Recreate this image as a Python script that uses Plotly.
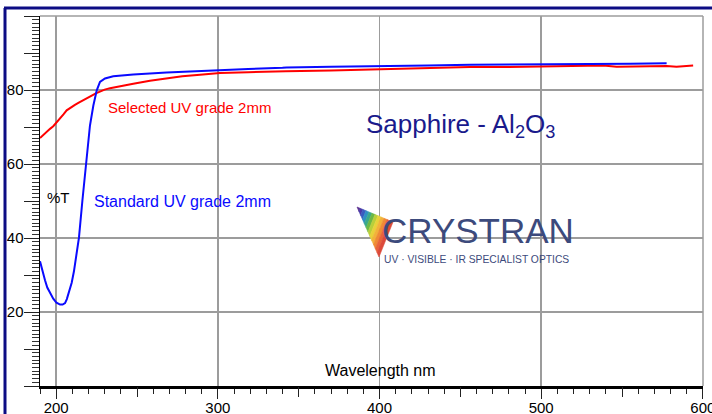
import plotly.graph_objects as go

# ---------------- data ----------------
std_nm = [190.0, 191.5, 193.1, 194.5, 196.5, 198.2, 200.2, 202.4, 204.0, 205.5, 206.6, 207.5,
          208.6, 209.6, 211.0, 212.3, 214.1, 216.2, 218.3, 219.9, 220.9, 223.0, 225.1, 227.1,
          230.2, 235.3, 247.7, 268.3, 289.0, 301.0, 318.8, 340.0, 342.5, 370.0, 400.0, 430.0,
          456.0, 480.0, 501.0, 530.0, 555.0, 577.6]
std_T = [33.7, 31.0, 28.6, 26.6, 24.8, 23.6, 22.5, 22.0, 22.0, 22.4, 23.5, 24.7,
         26.2, 27.9, 31.0, 34.5, 40.1, 50.0, 60.0, 66.8, 70.4, 75.8, 79.9, 82.2,
         83.1, 83.7, 84.2, 84.7, 85.1, 85.5, 85.7, 86.0, 86.1, 86.3, 86.4, 86.6,
         86.8, 86.8, 86.9, 87.0, 87.1, 87.2]

sel_nm = [190.0, 193.0, 196.2, 198.2, 200.5, 202.4, 204.5, 206.5, 209.0, 211.6, 214.0, 216.8,
          219.5, 222.0, 224.5, 227.1, 230.0, 233.3, 240.0, 247.7, 258.0, 268.3, 278.0, 289.0,
          301.3, 318.8, 338.4, 342.0, 370.0, 400.0, 430.0, 450.0, 456.0, 480.0, 501.0, 520.0,
          538.4, 546.7, 559.0, 577.6, 583.7, 594.0]
sel_T = [67.0, 68.3, 69.5, 70.2, 71.3, 72.2, 73.4, 74.5, 75.3, 76.0, 76.6, 77.2,
         77.9, 78.5, 79.1, 79.6, 80.1, 80.5, 81.1, 81.7, 82.5, 83.2, 83.7, 84.1,
         84.6, 84.8, 84.9, 85.1, 85.3, 85.6, 85.9, 86.1, 86.2, 86.2, 86.3, 86.4,
         86.6, 86.3, 86.4, 86.5, 86.3, 86.6]

x_major = [200, 300, 400, 500, 600]          # labelled ticks + grid
x_mid = [250, 350, 450, 550]                 # unlabelled longer ticks
y_major = [20, 40, 60, 80]                   # labelled ticks + grid
y_mid = [0, 10, 30, 50, 70, 90, 100]         # unlabelled longer ticks

# ---------------- layout helpers ----------------
W, H = 712, 414
L, R, T, B = 40, 9, 16, 28
PW, PH = W - L - R, H - T - B


def px(xp):
    return (xp - L) / PW


def py(yp):
    return (H - B - yp) / PH


FONT = "Arial, Liberation Sans, sans-serif"
GRID = "#9c9c9c"

fig = go.Figure()
fig.add_trace(go.Scatter(x=sel_nm, y=sel_T, mode="lines", name="Selected UV grade 2mm",
                         line=dict(color="#ff0000", width=2), showlegend=False, hoverinfo="skip"))
fig.add_trace(go.Scatter(x=std_nm, y=std_T, mode="lines", name="Standard UV grade 2mm",
                         line=dict(color="#0a0aff", width=2), showlegend=False, hoverinfo="skip"))
# helper (empty) trace so the overlay tick axes are drawn
fig.add_trace(go.Scatter(x=[None], y=[None], xaxis="x2", yaxis="y2", mode="lines",
                         showlegend=False, hoverinfo="skip"))

xr = [190, 600.1]
yr = [0, 100]

fig.update_layout(
    width=W, height=H,
    margin=dict(l=L, r=R, t=T, b=B, pad=0),
    paper_bgcolor="white", plot_bgcolor="white",
    font=dict(family=FONT, size=15, color="black"),
    xaxis=dict(range=xr, tickmode="array", tickvals=x_major,
               ticks="outside", ticklen=10, tickwidth=1, tickcolor="#222", ticklabelstandoff=-4,
               ticklabeloverflow="allow",
               minor=dict(dtick=10, tick0=200, ticks="outside", ticklen=5, tickcolor="#222", showgrid=False),
               showgrid=True, gridcolor=GRID, gridwidth=1.5,
               zeroline=False, showline=True, linecolor="black", linewidth=2.5,
               tickfont=dict(size=15, color="black"), automargin=False, fixedrange=True),
    yaxis=dict(range=yr, tickmode="array", tickvals=y_major,
               ticks="outside", ticklen=15, tickwidth=1, tickcolor="#222", ticklabelstandoff=-3,
               minor=dict(dtick=1, tick0=0, ticks="outside", ticklen=7, tickcolor="#333", showgrid=False),
               showgrid=True, gridcolor=GRID, gridwidth=1.5,
               zeroline=False, showline=True, linecolor="black", linewidth=1.5,
               tickfont=dict(size=15, color="black"), automargin=False, fixedrange=True),
    xaxis2=dict(range=xr, overlaying="x", anchor="y", side="bottom", tickmode="array", tickvals=x_mid,
                showgrid=False, showticklabels=False, ticks="outside", ticklen=10, tickwidth=1,
                tickcolor="#222", zeroline=False, showline=False, automargin=False, fixedrange=True),
    yaxis2=dict(range=yr, overlaying="y", anchor="x", side="left", tickmode="array", tickvals=y_mid,
                showgrid=False, showticklabels=False, ticks="outside", ticklen=15, tickwidth=1,
                tickcolor="#222", zeroline=False, showline=False, automargin=False, fixedrange=True),
)

shapes = []
# grey plot frame on top and right
shapes.append(dict(type="line", xref="paper", yref="paper", x0=0, x1=1, y0=1, y1=1,
                   line=dict(color=GRID, width=1.5), layer="between"))
shapes.append(dict(type="line", xref="paper", yref="paper", x0=1, x1=1, y0=0, y1=1,
                   line=dict(color=GRID, width=1.5), layer="between"))
# navy outer frame
NAVY = "#0c0c84"
shapes.append(dict(type="line", xref="paper", yref="paper", x0=px(5), x1=px(5), y0=py(8), y1=py(H + 2),
                   line=dict(color=NAVY, width=3)))
shapes.append(dict(type="line", xref="paper", yref="paper", x0=px(4), x1=px(W + 2), y0=py(8), y1=py(8),
                   line=dict(color=NAVY, width=3)))

# white boxes behind text (above grid, below traces)
boxes = [(42, 173, 72, 213), (360, 97, 567, 138), (318, 350, 442, 384),
         (350, 200, 580, 268), (104, 99, 276, 115), (90, 193, 275, 209)]
for x0, y0, x1, y1 in boxes:
    shapes.append(dict(type="rect", xref="paper", yref="paper", x0=px(x0), x1=px(x1), y0=py(y0), y1=py(y1),
                       fillcolor="white", line=dict(width=0), layer="between"))

# logo prism: bands radiating from the top-left corner
A = (357, 207)
Bv = (393, 222)
C = (379, 257)
band_cols = ["#5b2d8e", "#4a3aa8", "#3a5cc0", "#2f8fc4", "#3aa98a", "#6cb845", "#b9cf3a",
             "#e8d23a", "#f2b23a", "#ef8a35", "#e8633a", "#dc4a3a"]
n = len(band_cols)


def lerp(p, q, t):
    return (p[0] + (q[0] - p[0]) * t, p[1] + (q[1] - p[1]) * t)


for i, col in enumerate(band_cols):
    t0, t1 = i / n, (i + 1) / n
    p1, p2 = lerp(A, Bv, t0), lerp(A, C, t0)
    p3, p4 = lerp(A, C, t1), lerp(A, Bv, t1)
    pts = [p1, p2, p3, p4]
    path = "M " + " L ".join(f"{px(x):.5f},{py(y):.5f}" for x, y in pts) + " Z"
    shapes.append(dict(type="path", xref="paper", yref="paper", path=path,
                       fillcolor=col, line=dict(width=0.6, color=col), layer="above"))

fig.update_layout(shapes=shapes)

LOGO = "#3c4a7c"
ann = [
    dict(text="Selected UV grade 2mm", x=px(106), y=py(107), font=dict(color="#ff0000", size=15)),
    dict(text="Standard UV grade 2mm", x=px(92), y=py(201), font=dict(color="#0a0aff", size=16)),
    dict(text="%T", x=px(45), y=py(197), font=dict(color="black", size=15)),
    dict(text="Sapphire - Al<sub>2</sub>O<sub>3</sub>", x=px(364), y=py(126), font=dict(color="#1a1a8c", size=26)),
    dict(text="Wavelength nm", x=px(323), y=py(370), font=dict(color="black", size=16)),
    dict(text="CRYSTRAN", x=px(380), y=py(230), font=dict(color=LOGO, size=35)),
    dict(text="UV · VISIBLE · IR SPECIALIST OPTICS", x=px(382), y=py(259),
         font=dict(color=LOGO, size=10.3)),
]
for a in ann:
    a.update(xref="paper", yref="paper", xanchor="left", yanchor="middle", showarrow=False)
fig.update_layout(annotations=ann)

fig.write_html("out.html", config={"displayModeBar": False, "staticPlot": True},
               post_script="document.body.style.margin='0';document.body.style.padding='0';"
                           "document.documentElement.style.overflow='hidden';")
